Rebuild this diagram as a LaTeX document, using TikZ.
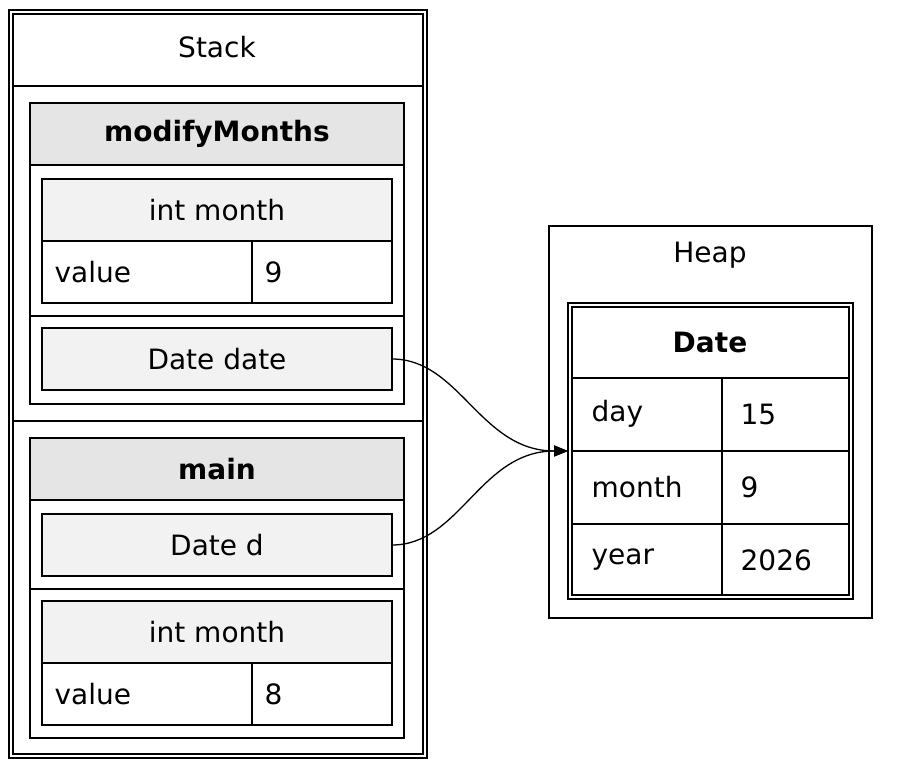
\documentclass[tikz,border=0pt]{standalone}
\usepackage{fontspec}
\setmainfont{DejaVu Sans}
\usetikzlibrary{arrows.meta}
\begin{document}
\begin{tikzpicture}[x=1pt,y=-1pt,line width=1.3pt,
  txt/.style={font=\fontsize{28}{32}\selectfont,inner sep=0pt},
  lt/.style={txt,anchor=west},
  box/.style={draw,line width=1.3pt},
  hd/.style={box,fill=black!10},
  sub/.style={box,fill=black!5}]
\useasboundingbox (0,0) rectangle (903,768);
% Stack
\draw[line width=1.5pt] (9,10) rectangle (427,758);
\draw (13,14) rectangle (423,754);
\draw (13,86) -- (423,86);
\draw (13,421) -- (423,421);
\node[txt] (stack) at (217,47) {Stack};
% modifyMonths frame
\draw[box] (30,103) rectangle (404,404);
\draw[hd] (30,103) rectangle (404,165);
\node[txt] (mm) at (217,134) {\textbf{modifyMonths}};
\draw[box] (42,179) rectangle (392,303);
\draw[sub] (42,179) rectangle (392,241);
\draw (252,241) -- (252,303);
\node[txt] (im1) at (217,210) {int month};
\node[lt] (v1) at (54,272) {value};
\node[lt] (n1) at (264,272) {9};
\draw (30,316) -- (404,316);
\draw[sub] (42,328) rectangle (392,390);
\node[txt] (dd) at (217,359) {Date date};
\coordinate (ddr) at (392,359);
% main frame
\draw[box] (30,438) rectangle (404,738);
\draw[hd] (30,438) rectangle (404,500);
\node[txt] (mn) at (217,469) {\textbf{main}};
\draw[sub] (42,514) rectangle (392,576);
\node[txt] (d) at (217,545) {Date d};
\coordinate (dr) at (392,545);
\draw (30,589) -- (404,589);
\draw[box] (42,601) rectangle (392,725);
\draw[sub] (42,601) rectangle (392,663);
\draw (252,663) -- (252,725);
\node[txt] (im2) at (217,632) {int month};
\node[lt] (v2) at (54,694) {value};
\node[lt] (n2) at (264,694) {8};
% Heap
\draw[box] (549,226) rectangle (872,618);
\node[txt] (heap) at (710,255) {Heap};
\draw (568,303) rectangle (853,599);
\draw (572,307) rectangle (849,595);
\draw (572,378) -- (849,378);
\draw (572,451) -- (849,451);
\draw (572,524) -- (849,524);
\draw (722,378) -- (722,595);
\node[txt] (date) at (710,342) {\textbf{Date}};
\node[lt] (a1) at (591,414) {day};   \node[lt] (b1) at (740,414) {15};
\node[lt] (a2) at (591,487) {month}; \node[lt] (b2) at (740,487) {9};
\node[lt] (a3) at (591,560) {year};  \node[lt] (b3) at (740,560) {2026};
\coordinate (tgt) at (568,451);
% arrows
\draw[line width=1.3pt,-{Triangle[length=14pt,width=11pt]}] (ddr) .. controls (460,359) and (480,451) .. (tgt);
\draw[line width=1.3pt,-{Triangle[length=14pt,width=11pt]}] (dr) .. controls (460,545) and (480,451) .. (tgt);
\end{tikzpicture}
\end{document}
